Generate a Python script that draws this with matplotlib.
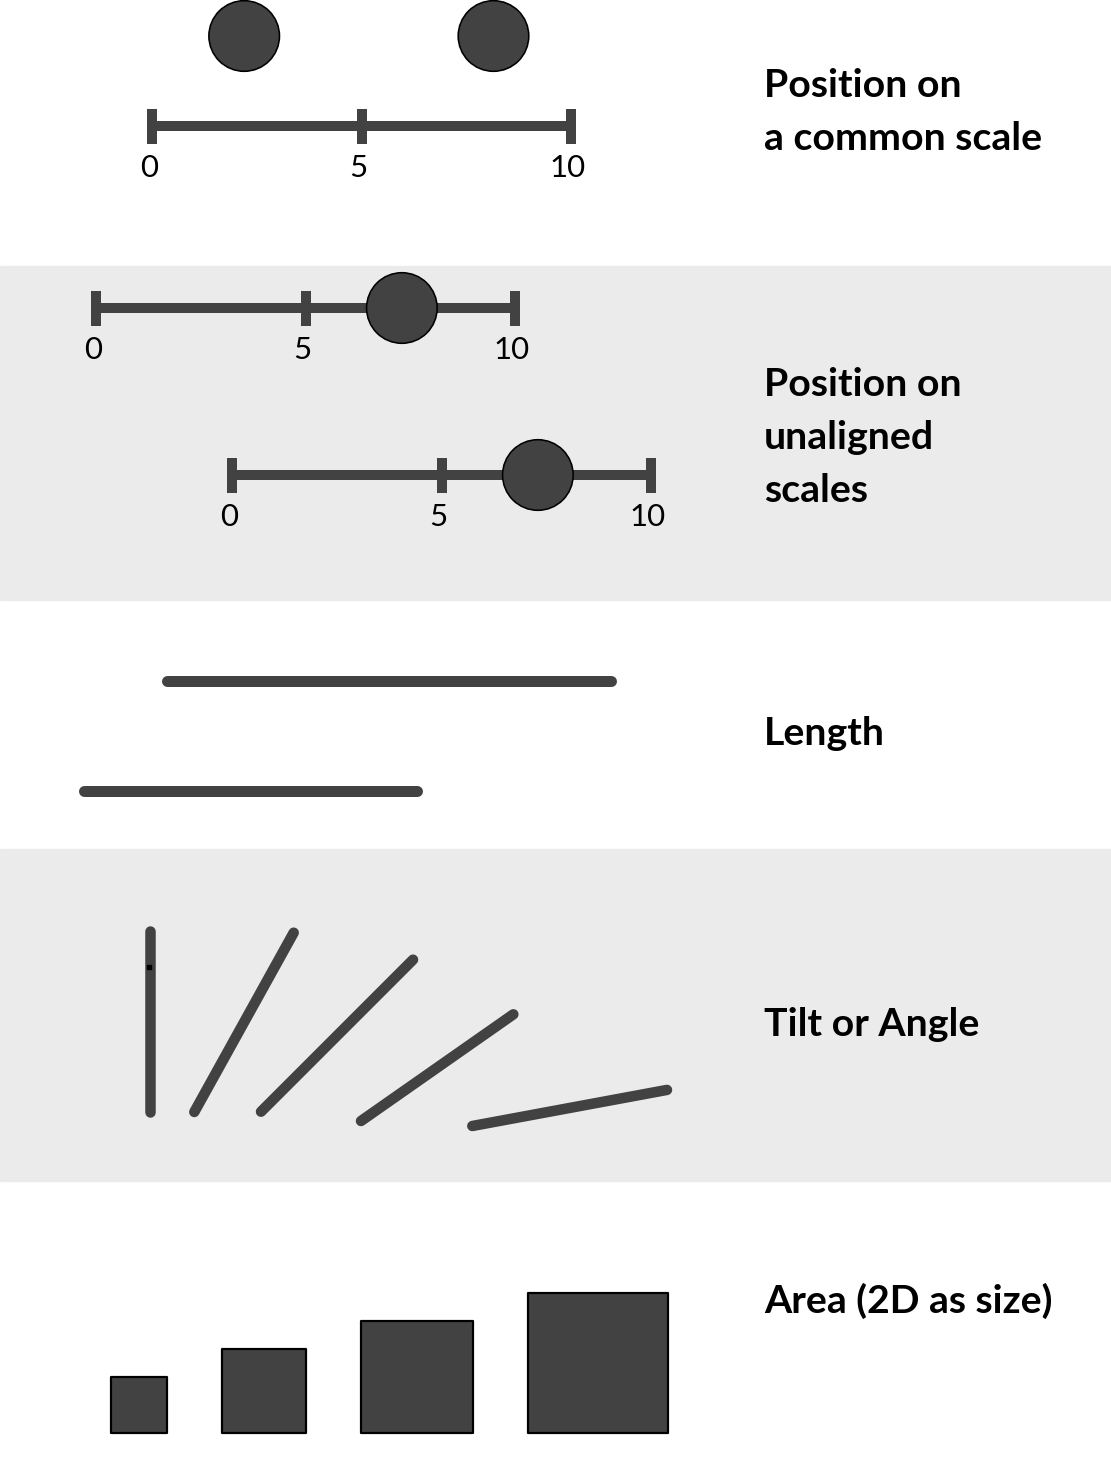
import numpy as np
import matplotlib
matplotlib.use("Agg")
import matplotlib.pyplot as plt
from matplotlib.patches import Circle, Rectangle

# ---- data ----
panel_titles = [
    ["Position on", "a common scale"],
    ["Position on", "unaligned", "scales"],
    ["Length"],
    ["Tilt or Angle"],
    ["Area (2D as size)"],
]
scale_ticks = [0, 5, 10]
common_scale_values = [2.2, 8.15]      # two dots above one scale
unaligned_values = [7.3, 7.3]          # one dot on each of two scales
length_values = [4, 3]                 # relative lengths
tilt_angles = [90, 61, 45, 35, 10.5]   # degrees from horizontal
tilt_lengths = [181, 205, 215, 186, 198]
square_areas = [4, 9, 16, 25]

# ---- style ----
mark = "#424242"
band = "#ebebeb"
W, H = 1111, 1468
PX = 72 / 100  # points per pixel
title_font = dict(family=["Lato", "DejaVu Sans"], fontweight="bold", fontsize=28.3, color="black")
tick_font = dict(family=["Lato", "DejaVu Sans"], fontsize=22.5, color="black")

fig = plt.figure(figsize=(W / 100, H / 100), dpi=100)
ax = fig.add_axes([0, 0, 1, 1])
ax.set_xlim(0, W)
ax.set_ylim(H, 0)
ax.axis("off")

# grey bands behind panels 2 and 4
ax.add_patch(Rectangle((0, 266), W, 334, color=band, zorder=0))
ax.add_patch(Rectangle((0, 849), W, 332, color=band, zorder=0))

unit = 41.9  # px per scale unit


def draw_scale(x0, y):
    xs = [x0 + t * unit for t in scale_ticks]
    ax.plot([xs[0], xs[-1]], [y, y], color=mark, lw=10 * PX, solid_capstyle="butt", zorder=2)
    for t, x in zip(scale_ticks, xs):
        ax.plot([x, x], [y - 17.5, y + 17.5], color=mark, lw=10 * PX, solid_capstyle="butt", zorder=2)
        ax.text(x - 3, y + 42, str(t), ha="center", va="center", **tick_font)


def dot(x, y):
    ax.add_patch(Circle((x, y), 35.3, facecolor=mark, edgecolor="black", lw=1.6 * PX, zorder=3))


# panel 1: common scale
draw_scale(152, 126)
for v in common_scale_values:
    dot(152 + v * unit, 36)

# panel 2: unaligned scales
for (x0, y), v in zip([(96, 308), (232, 475)], unaligned_values):
    draw_scale(x0, y)
    dot(x0 + v * unit, y)

# panel 3: length
for (x0, y), L in zip([(167, 681), (83.5, 791)], length_values):
    ax.plot([x0, x0 + L * 111], [y, y], color=mark, lw=11 * PX, solid_capstyle="round", zorder=2)

# panel 4: tilt
starts = [(150, 1112), (194.3, 1112), (261, 1111.7), (361, 1121), (472.3, 1126)]
for (x0, y0), a, L in zip(starts, tilt_angles, tilt_lengths):
    r = np.radians(a)
    ax.plot([x0, x0 + L * np.cos(r)], [y0, y0 - L * np.sin(r)], color=mark,
            lw=10.5 * PX, solid_capstyle="round", zorder=2)
ax.plot([149], [967], marker="s", ms=2.2, color="black", zorder=3)

# panel 5: area
side_unit = 28
x = 111
for a in square_areas:
    s = np.sqrt(a) * side_unit
    ax.add_patch(Rectangle((x, 1433 - s), s, s, facecolor=mark, edgecolor="black",
                           lw=2.2 * PX, joinstyle="round", zorder=2))
    x += s + 55

# titles
baselines = [[97, 150], [396, 449, 502], [745], [1036], [1313]]
for lines, ys in zip(panel_titles, baselines):
    for txt, y in zip(lines, ys):
        ax.text(764, y, txt, ha="left", va="baseline", **title_font)

fig.savefig("out.png", dpi=100)
